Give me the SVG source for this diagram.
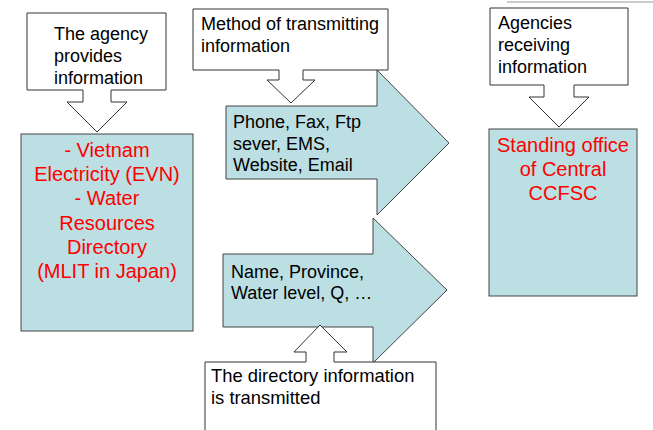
<svg xmlns="http://www.w3.org/2000/svg" width="653" height="430" viewBox="0 0 653 430">
<style>
.call{fill:#fff;stroke:#333;stroke-width:1}
.blue{fill:#BBDFE2;stroke:#444;stroke-width:1}
.t{font-family:"Liberation Sans",Arial,sans-serif;font-size:18px;fill:#000}
.r{font-family:"Liberation Sans",Arial,sans-serif;font-size:20px;fill:#FF0000;text-anchor:middle}
</style>
<rect width="653" height="430" fill="#fff"/>
<line x1="507" y1="2" x2="653" y2="2" stroke="#cccccc" stroke-width="2"/>
<g id="connectors">
<path id="arrow-methods" class="blue" d="M226,106 H377 V70 L449,143 L377,215 V179 H226 Z"/>
<path id="arrow-directory" class="blue" d="M223,254 H373 V218 L447,290 L373,363 V327 H223 Z"/>
</g>
<g id="provider-label">
<path class="call" d="M27,13 H166 V90 H111 V102 H127 L97,132 L67,102 H83 V90 H27 Z"/>
<text class="t" x="54" y="40">The agency</text>
<text class="t" x="54" y="62">provides</text>
<text class="t" x="54" y="84">information</text>
</g>
<g id="method-label">
<path class="call" d="M193,9 H388 V70 H303 V80 H315 L291,103 L267,80 H279 V70 H193 Z"/>
<text class="t" x="201" y="30">Method of transmitting</text>
<text class="t" x="201" y="52">information</text>
</g>
<g id="receiver-label">
<path class="call" d="M490,8 H628 V85 H574 V97 H589 L559,127 L529,97 H544 V85 H490 Z"/>
<text class="t" x="498" y="29">Agencies</text>
<text class="t" x="498" y="51">receiving</text>
<text class="t" x="498" y="73">information</text>
</g>
<g id="provider">
<rect class="blue" x="21" y="134" width="172" height="197"/>
<text class="r" x="107" y="157">- Vietnam</text>
<text class="r" x="107" y="181">Electricity (EVN)</text>
<text class="r" x="107" y="205">- Water</text>
<text class="r" x="107" y="230">Resources</text>
<text class="r" x="107" y="254">Directory</text>
<text class="r" x="107" y="278">(MLIT in Japan)</text>
</g>
<g id="methods">
<text class="t" x="233" y="128">Phone, Fax, Ftp</text>
<text class="t" x="233" y="150">sever, EMS,</text>
<text class="t" x="233" y="171">Website, Email</text>
</g>
<g id="directory">
<text class="t" x="231" y="278">Name, Province,</text>
<text class="t" x="231" y="299">Water level, Q, …</text>
</g>
<g id="receiver">
<rect class="blue" x="489" y="129" width="148" height="167"/>
<text class="r" x="563" y="152">Standing office</text>
<text class="r" x="563" y="176">of Central</text>
<text class="r" x="563" y="200">CCFSC</text>
</g>
<g id="directory-label">
<path class="call" d="M205,440 V362 H306 V352 H294 L320,325 L347,352 H334 V362 H436 V440"/>
<text class="t" x="211" y="382" style="font-size:18.4px">The directory information</text>
<text class="t" x="211" y="404" style="font-size:18.4px">is transmitted</text>
</g>
</svg>
